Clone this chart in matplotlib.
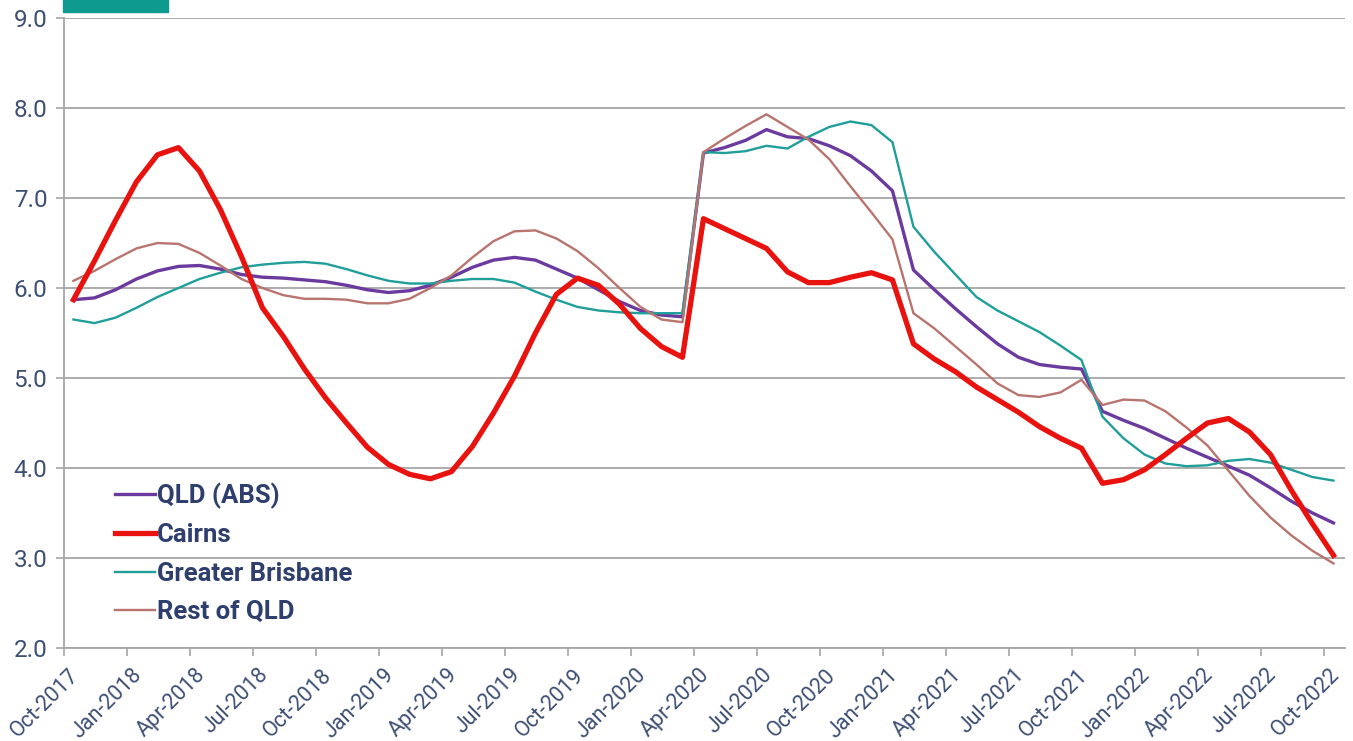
import numpy as np
import matplotlib.pyplot as plt
import matplotlib.transforms as mtransforms
from matplotlib.patches import Rectangle

# monthly series, Oct-2017 .. Oct-2022
qld = [5.87, 5.89, 5.98, 6.10, 6.19, 6.24, 6.25, 6.21, 6.15, 6.12,
       6.11, 6.09, 6.07, 6.03, 5.98, 5.95, 5.97, 6.03, 6.12, 6.23,
       6.31, 6.34, 6.31, 6.21, 6.11, 5.98, 5.85, 5.75, 5.70, 5.68,
       7.50, 7.56, 7.64, 7.76, 7.68, 7.66, 7.58, 7.47, 7.30, 7.08,
       6.20, 5.98, 5.77, 5.57, 5.38, 5.23, 5.15, 5.12, 5.10, 4.63,
       4.53, 4.44, 4.33, 4.22, 4.12, 4.02, 3.92, 3.78, 3.63, 3.50, 3.39]
cairns = [5.87, 6.30, 6.75, 7.18, 7.48, 7.56, 7.30, 6.87, 6.35, 5.78,
          5.46, 5.10, 4.78, 4.50, 4.23, 4.04, 3.93, 3.88, 3.96, 4.24,
          4.61, 5.02, 5.50, 5.93, 6.11, 6.03, 5.82, 5.55, 5.35, 5.23,
          6.77, 6.66, 6.55, 6.44, 6.18, 6.06, 6.06, 6.12, 6.17, 6.09,
          5.38, 5.21, 5.07, 4.90, 4.76, 4.62, 4.46, 4.33, 4.22, 3.83,
          3.87, 3.98, 4.15, 4.33, 4.50, 4.55, 4.40, 4.15, 3.75, 3.38, 3.03]
brisbane = [5.65, 5.61, 5.67, 5.78, 5.90, 6.00, 6.10, 6.17, 6.23, 6.26,
            6.28, 6.29, 6.27, 6.21, 6.14, 6.08, 6.05, 6.05, 6.08, 6.10,
            6.10, 6.06, 5.96, 5.87, 5.79, 5.75, 5.73, 5.72, 5.72, 5.72,
            7.51, 7.50, 7.52, 7.58, 7.55, 7.68, 7.79, 7.85, 7.81, 7.62,
            6.68, 6.40, 6.15, 5.90, 5.75, 5.63, 5.51, 5.36, 5.20, 4.57,
            4.33, 4.15, 4.05, 4.02, 4.03, 4.08, 4.10, 4.06, 3.98, 3.90, 3.86]
rest_qld = [6.08, 6.19, 6.32, 6.44, 6.50, 6.49, 6.39, 6.25, 6.10, 6.00,
            5.92, 5.88, 5.88, 5.87, 5.83, 5.83, 5.88, 6.00, 6.14, 6.34,
            6.52, 6.63, 6.64, 6.55, 6.41, 6.22, 6.00, 5.79, 5.65, 5.62,
            7.51, 7.66, 7.80, 7.93, 7.79, 7.65, 7.43, 7.13, 6.84, 6.54,
            5.72, 5.55, 5.35, 5.15, 4.94, 4.81, 4.79, 4.84, 4.98, 4.70,
            4.76, 4.75, 4.63, 4.45, 4.25, 3.97, 3.69, 3.45, 3.25, 3.08, 2.94]

tick_labels = ['Oct-2017', 'Jan-2018', 'Apr-2018', 'Jul-2018', 'Oct-2018',
               'Jan-2019', 'Apr-2019', 'Jul-2019', 'Oct-2019', 'Jan-2020',
               'Apr-2020', 'Jul-2020', 'Oct-2020', 'Jan-2021', 'Apr-2021',
               'Jul-2021', 'Oct-2021', 'Jan-2022', 'Apr-2022', 'Jul-2022',
               'Oct-2022']

plt.rcParams['font.family'] = ['Roboto', 'DejaVu Sans']

x = np.arange(len(qld)) + 0.45   # points sit mid-month
tick_pos = np.arange(0, 61, 3)

fig = plt.figure(figsize=(13.53, 7.41), dpi=100)
ax = fig.add_axes([0.0473, 0.1255, 0.9468, 0.8502])

ax.plot(x, qld, color='#6b3a9e', lw=2.4, label='QLD (ABS)', zorder=3)
ax.plot(x, cairns, color='#e8120f', lw=3.8, label='Cairns', zorder=6)
ax.plot(x, brisbane, color='#1f9e9a', lw=1.7, label='Greater Brisbane', zorder=4)
ax.plot(x, rest_qld, color='#b8746e', lw=1.7, label='Rest of QLD', zorder=5)

ax.set_xlim(0, 61)
ax.set_ylim(2.0, 9.0)
ax.set_yticks(np.arange(2, 10, 1))
ax.set_yticklabels(['%.1f' % v for v in np.arange(2, 10, 1)])
ax.set_xticks(tick_pos)
ax.set_xticklabels([])

# rotated date labels, end of text just right of / below each tick
shift = mtransforms.ScaledTranslation(12 / 100, -24 / 100, fig.dpi_scale_trans)
for p, lab in zip(tick_pos, tick_labels):
    ax.text(p, 0, lab, transform=ax.get_xaxis_transform() + shift,
            rotation=45, rotation_mode='anchor', ha='right', va='center',
            fontsize=15.5, color='#3d4f73', clip_on=False)

ax.grid(axis='y', color='#a6a6a6', lw=1.3, zorder=0)
for s in ['top', 'right']:
    ax.spines[s].set_visible(False)
for s in ['left', 'bottom']:
    ax.spines[s].set_color('#a6a6a6')
    ax.spines[s].set_linewidth(1.3)
ax.tick_params(axis='both', colors='#a6a6a6', labelcolor='#3d4f73',
               length=6, width=1.2)
ax.tick_params(axis='y', labelsize=17.5, pad=6)

leg = ax.legend(loc='upper left', bbox_to_anchor=(0.04, 0.262), frameon=False,
                prop={'weight': 'bold', 'size': 18.5}, handlelength=1.55,
                handletextpad=0.08, labelspacing=0.55, borderpad=0,
                borderaxespad=0)
for t in leg.get_texts():
    t.set_color('#2e3f6e')

# teal header tab, clipped at the top edge
fig.patches.append(Rectangle((63 / 1353, 1 - 12 / 741), 105 / 1353, 0.03,
                             transform=fig.transFigure, color='#0e9a8e',
                             zorder=10))

fig.savefig('out.png', dpi=100)
